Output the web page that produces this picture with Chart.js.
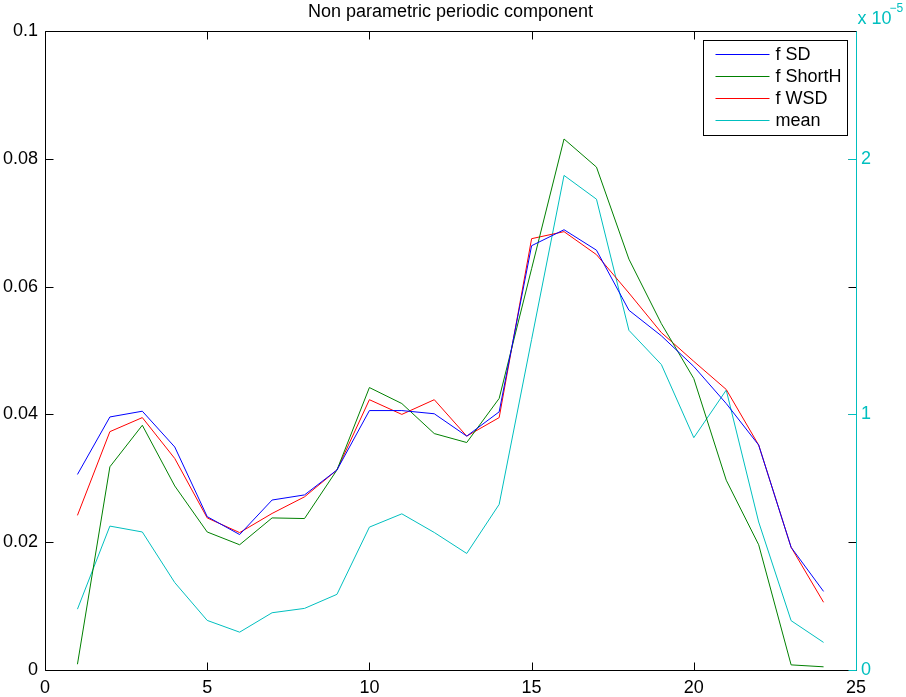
<!DOCTYPE html>
<html>
<head>
<meta charset="utf-8">
<script src="https://cdn.jsdelivr.net/npm/chart.js@4/dist/chart.umd.min.js"></script>
<style>
  body { margin: 0; background: #fff; }
</style>
</head>
<body>
<canvas id="periodicChart" width="906" height="697"></canvas>
<script>
// hour of day
const hours = [1, 2, 3, 4, 5, 6, 7, 8, 9, 10, 11, 12, 13, 14, 15, 16, 17, 18, 19, 20, 21, 22, 23, 24];

// periodic component estimates (left axis)
const fSD = [0.0306, 0.0396, 0.0405, 0.0349, 0.0240, 0.0212, 0.0266, 0.0274, 0.0313, 0.0406, 0.0406, 0.0401,
             0.0366, 0.0404, 0.0664, 0.0689, 0.0657, 0.0563, 0.0523, 0.0475, 0.0417, 0.0352, 0.0192, 0.0123];
const fShortH = [0.0009, 0.0318, 0.0383, 0.0288, 0.0216, 0.0196, 0.0238, 0.0237, 0.0313, 0.0442, 0.0417, 0.0370,
                 0.0356, 0.0425, 0.0628, 0.0831, 0.0787, 0.0643, 0.0542, 0.0456, 0.0297, 0.0196, 0.0008, 0.0005];
const fWSD = [0.0242, 0.0373, 0.0395, 0.0331, 0.0238, 0.0215, 0.0245, 0.0271, 0.0313, 0.0423, 0.0400, 0.0423,
              0.0366, 0.0395, 0.0675, 0.0686, 0.0650, 0.0590, 0.0528, 0.0483, 0.0439, 0.0352, 0.0192, 0.0106];

// mean, in units of 1e-5 (right axis)
const meanE5 = [0.238, 0.563, 0.540, 0.342, 0.194, 0.148, 0.224, 0.241, 0.296, 0.559, 0.611, 0.538,
                0.456, 0.648, 1.293, 1.935, 1.842, 1.329, 1.195, 0.909, 1.095, 0.579, 0.193, 0.108];

const CYAN = "#00bfbf";
const FONT = "Liberation Sans, Arial, Helvetica, sans-serif";

const pts = vals => vals.map((v, i) => ({ x: hours[i], y: v }));

// =====================================
// Frame, inward ticks, title, legend
// =====================================
const matlabFrame = {
    id: "matlabFrame",
    afterDraw(chart) {
        const { ctx, chartArea: a, scales } = chart;
        const L = Math.round(a.left) + 0.5, R = Math.round(a.right) + 0.5;
        const T = Math.round(a.top) + 0.5, B = Math.round(a.bottom) + 0.5;
        const tick = 8;
        ctx.save();
        ctx.lineWidth = 1;

        // black frame (left, top, bottom)
        ctx.strokeStyle = "#000";
        ctx.beginPath();
        ctx.moveTo(R, T); ctx.lineTo(L, T); ctx.lineTo(L, B); ctx.lineTo(R, B);
        ctx.stroke();

        // x ticks on bottom and top
        ctx.beginPath();
        scales.x.ticks.forEach(t => {
            const px = Math.round(scales.x.getPixelForValue(t.value)) + 0.5;
            ctx.moveTo(px, B); ctx.lineTo(px, B - tick);
            ctx.moveTo(px, T); ctx.lineTo(px, T + tick);
        });
        // left-axis ticks, mirrored on the right
        scales.y.ticks.forEach(t => {
            const py = Math.round(scales.y.getPixelForValue(t.value)) + 0.5;
            ctx.moveTo(L, py); ctx.lineTo(L + tick, py);
            ctx.moveTo(R, py); ctx.lineTo(R - tick, py);
        });
        ctx.stroke();

        // right axis in cyan
        ctx.strokeStyle = CYAN;
        ctx.beginPath();
        ctx.moveTo(R, T); ctx.lineTo(R, B);
        scales.y2.ticks.forEach(t => {
            const py = Math.round(scales.y2.getPixelForValue(t.value)) + 0.5;
            ctx.moveTo(R, py); ctx.lineTo(R - tick, py);
        });
        ctx.stroke();

        // title
        ctx.fillStyle = "#000";
        ctx.font = "18px " + FONT;
        ctx.textAlign = "center";
        ctx.textBaseline = "alphabetic";
        ctx.fillText("Non parametric periodic component", (a.left + a.right) / 2, 17);

        // exponent of the right axis
        ctx.fillStyle = CYAN;
        ctx.textAlign = "left";
        ctx.fillText("x 10", R + 1, 24);
        ctx.font = "12px " + FONT;
        ctx.fillText("\u22125", R + 33, 12);

        // legend box
        const bx = R - 153, by = 40.5, bw = 144, bh = 95;
        ctx.fillStyle = "#fff";
        ctx.fillRect(bx, by, bw, bh);
        ctx.strokeStyle = "#000";
        ctx.strokeRect(bx, by, bw, bh);
        ctx.font = "18px " + FONT;
        ctx.textBaseline = "middle";
        chart.data.datasets.forEach((ds, i) => {
            const ly = Math.round(by + 13 + i * 22.3) + 0.5;
            ctx.strokeStyle = ds.borderColor;
            ctx.beginPath();
            ctx.moveTo(bx + 12, ly); ctx.lineTo(bx + 66, ly);
            ctx.stroke();
            ctx.fillStyle = "#000";
            ctx.fillText(ds.label, bx + 72, ly + 1);
        });
        ctx.restore();
    }
};

new Chart(document.getElementById("periodicChart"), {
    type: "line",
    data: {
        datasets: [
            { label: "f SD", data: pts(fSD), borderColor: "#0000ff", yAxisID: "y" },
            { label: "f ShortH", data: pts(fShortH), borderColor: "#008000", yAxisID: "y" },
            { label: "f WSD", data: pts(fWSD), borderColor: "#ff0000", yAxisID: "y" },
            { label: "mean", data: pts(meanE5), borderColor: CYAN, yAxisID: "y2" }
        ]
    },
    options: {
        responsive: false,
        animation: false,
        layout: { padding: { top: 31, left: 0, right: 0, bottom: 0 } },
        elements: {
            line: { borderWidth: 1, tension: 0 },
            point: { radius: 0 }
        },
        plugins: {
            legend: { display: false },
            tooltip: { enabled: false }
        },
        scales: {
            x: {
                type: "linear",
                min: 0,
                max: 25,
                grid: { display: false, drawTicks: false },
                border: { display: false },
                ticks: { stepSize: 5, color: "#000", padding: 7, font: { family: FONT, size: 18 } },
                afterFit: s => { s.height = 27; }
            },
            y: {
                position: "left",
                min: 0,
                max: 0.1,
                grid: { display: false, drawTicks: false },
                border: { display: false },
                ticks: {
                    stepSize: 0.02,
                    color: "#000",
                    padding: 7,
                    font: { family: FONT, size: 18 },
                    callback: v => String(Math.round(v * 100) / 100)
                },
                afterFit: s => { s.width = 45; }
            },
            y2: {
                position: "right",
                min: 0,
                max: 2.5,
                grid: { display: false, drawTicks: false },
                border: { display: false },
                ticks: { stepSize: 1, color: CYAN, padding: 5, font: { family: FONT, size: 18 } },
                afterBuildTicks: s => { s.ticks = s.ticks.filter(t => Number.isInteger(t.value)); },
                afterFit: s => { s.width = 50; }
            }
        }
    },
    plugins: [matlabFrame]
});
</script>
</body>
</html>
